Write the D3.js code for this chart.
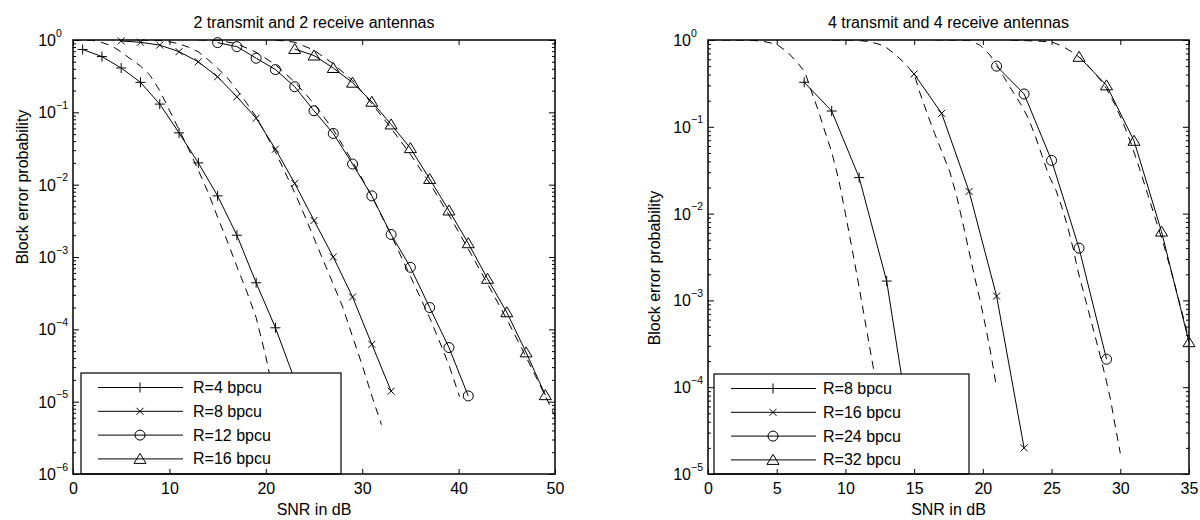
<!DOCTYPE html>
<html>
<head>
<meta charset="utf-8">
<script src="https://cdn.jsdelivr.net/npm/d3@7"></script>
<style>
  body { margin: 0; background: #fff; }
</style>
</head>
<body>
<svg id="chart" width="1200" height="520"></svg>
<script>
var FONT = "Arial, 'Liberation Sans', Helvetica, sans-serif";

// ---- left panel: 2 transmit / 2 receive antennas ----
var leftTicksX = [0, 10, 20, 30, 40, 50];
var leftDecades = [1, 1e-1, 1e-2, 1e-3, 1e-4, 1e-5, 1e-6];
var leftLabels = ["R=4 bpcu", "R=8 bpcu", "R=12 bpcu", "R=16 bpcu"];

var l4Snr = [1, 3, 5, 7, 9, 11, 13, 15, 17, 19, 21, 23];
var l4P = [0.74, 0.59, 0.41, 0.26, 0.13, 0.052, 0.020, 0.0070, 0.0020, 4.4e-4, 1.05e-4, 2.0e-5];
var l8Snr = [5, 7, 9, 11, 13, 15, 17, 19, 21, 23, 25, 27, 29, 31, 33];
var l8P = [0.97, 0.93, 0.85, 0.69, 0.50, 0.31, 0.164, 0.083, 0.031, 0.0104, 0.0032, 1.0e-3, 2.8e-4, 6.2e-5, 1.4e-5];
var l12Snr = [15, 17, 19, 21, 23, 25, 27, 29, 31, 33, 35, 37, 39, 41];
var l12P = [0.92, 0.81, 0.56, 0.39, 0.226, 0.105, 0.051, 0.0193, 0.0070, 0.00205, 7.2e-4, 2.0e-4, 5.6e-5, 1.2e-5];
var l16Snr = [23, 25, 27, 29, 31, 33, 35, 37, 39, 41, 43, 45, 47, 49];
var l16P = [0.75, 0.61, 0.41, 0.257, 0.14, 0.068, 0.032, 0.012, 0.0044, 0.00155, 5.0e-4, 1.72e-4, 4.8e-5, 1.23e-5];

// dashed (bound) curves, left panel
var l4DashSnr = [0, 2, 3, 4, 5, 6, 7, 8, 9, 10, 11, 12, 13, 14, 15, 16, 17, 18, 19, 20, 21];
var l4DashP = [1.0, 0.991, 0.923, 0.832, 0.684, 0.543, 0.437, 0.324, 0.200, 0.107, 0.0575, 0.0309, 0.0158, 0.0079, 0.00355, 0.00166, 7.4e-4, 3.4e-4, 1.45e-4, 4.2e-5, 1.0e-5];
var l8DashSnr = [7, 9, 10, 11, 12, 13, 14, 15, 16, 17, 18, 19, 20, 21, 22, 23, 24, 25, 26, 27, 28, 29, 30, 31, 32];
var l8DashP = [1.0, 0.982, 0.944, 0.887, 0.794, 0.684, 0.537, 0.407, 0.302, 0.204, 0.135, 0.087, 0.050, 0.0282, 0.0148, 0.00776, 0.0038, 0.00182, 8.7e-4, 4.2e-4, 2.0e-4, 7.9e-5, 3.2e-5, 1.2e-5, 4.8e-6];
var l12DashSnr = [13, 15, 17, 19, 21, 23, 25, 27, 29, 31, 33, 35, 37, 38, 39, 40.1];
var l12DashP = [1.0, 0.989, 0.891, 0.676, 0.457, 0.263, 0.132, 0.0575, 0.0209, 0.00692, 0.0020, 5.4e-4, 1.45e-4, 6.9e-5, 3.2e-5, 1.17e-5];
var l16DashSnr = [21, 23, 25, 27, 29, 31, 33, 35, 37, 39, 41, 43, 45, 47, 49, 50];
var l16DashP = [1.0, 0.933, 0.724, 0.468, 0.275, 0.132, 0.0603, 0.0263, 0.0105, 0.0038, 0.00129, 4.27e-4, 1.38e-4, 4.17e-5, 1.2e-5, 6.3e-6];

// ---- right panel: 4 transmit / 4 receive antennas ----
var rightTicksX = [0, 5, 10, 15, 20, 25, 30, 35];
var rightDecades = [1, 1e-1, 1e-2, 1e-3, 1e-4, 1e-5];
var rightLabels = ["R=8 bpcu", "R=16 bpcu", "R=24 bpcu", "R=32 bpcu"];

var r8Snr = [7, 9, 11, 13, 15];
var r8P = [0.326, 0.152, 0.026, 0.00167, 1.6e-5];
var r16Snr = [15, 17, 19, 21, 23];
var r16P = [0.406, 0.143, 0.018, 0.00112, 2.0e-5];
var r24Snr = [21, 23, 25, 27, 29];
var r24P = [0.50, 0.239, 0.041, 0.0040, 2.1e-4];
var r32Snr = [27, 29, 31, 33, 35];
var r32P = [0.64, 0.30, 0.069, 0.0062, 3.3e-4];

var r8DashSnr = [0, 3, 4, 5, 5.8, 6.5, 7.05, 7.5, 8, 8.5, 9, 9.5, 10, 10.5, 11, 11.5, 12, 12.5];
var r8DashP = [1.0, 0.995, 0.966, 0.891, 0.724, 0.55, 0.427, 0.263, 0.158, 0.0891, 0.0513, 0.0251, 0.01, 0.0038, 0.00141, 5.0e-4, 1.78e-4, 6.3e-5];
var r16DashSnr = [9, 10.8, 11.8, 12.8, 13.5, 14.2, 15, 15.4, 16, 16.5, 17, 17.6, 18.1, 18.6, 19, 19.4, 19.8, 20.2, 20.6, 21];
var r16DashP = [1.0, 0.995, 0.955, 0.861, 0.708, 0.562, 0.407, 0.251, 0.135, 0.0832, 0.0525, 0.0302, 0.0158, 0.00708, 0.00363, 0.00186, 0.001, 5.0e-4, 2.34e-4, 9.8e-5];
var r24DashSnr = [16.5, 19, 19.8, 20.5, 21, 21.5, 22, 22.8, 23.3, 23.8, 24.3, 24.8, 25.3, 25.8, 26.2, 26.6, 26.9, 27.4, 27.9, 28.4, 28.9, 29.3, 29.6, 30];
var r24DashP = [1.0, 0.995, 0.871, 0.676, 0.525, 0.38, 0.282, 0.178, 0.126, 0.0794, 0.0468, 0.0275, 0.019, 0.0112, 0.00676, 0.0038, 0.00224, 0.00112, 5.6e-4, 2.8e-4, 1.35e-4, 7.1e-5, 3.8e-5, 1.74e-5];
var r32DashSnr = [22, 25, 25.85, 26.6, 27.1, 27.8, 28.5, 29, 29.6, 30.2, 30.8, 31.4, 32, 32.6, 33.2, 33.8, 34.4, 35, 35.5];
var r32DashP = [1.0, 0.955, 0.838, 0.708, 0.617, 0.479, 0.355, 0.275, 0.182, 0.112, 0.0631, 0.0331, 0.0166, 0.0083, 0.00417, 0.0019, 8.3e-4, 3.5e-4, 1.6e-4];

var markers = ["plus", "cross", "circle", "tri"];

var svg = d3.select("#chart");

function addMarker(sel, type) {
  if (type === "circle") {
    sel.append("circle").attr("r", 5);
  } else if (type === "plus") {
    sel.append("path").attr("d", "M-5,0H5M0,-5V5");
  } else if (type === "cross") {
    sel.append("path").attr("d", "M-3.5,-3.5L3.5,3.5M-3.5,3.5L3.5,-3.5");
  } else {
    sel.append("path").attr("d", "M0,-5.5L6,4.5L-6,4.5Z");
  }
  sel.selectAll("*").attr("fill", "none").attr("stroke", "#000").attr("stroke-width", 1);
}

function drawPanel(p) {
  var x = d3.scaleLinear()
    .domain([p.xTicks[0], p.xTicks[p.xTicks.length - 1]])
    .range([p.x0, p.x1]);
  var y = d3.scaleLog()
    .domain([p.decades[p.decades.length - 1], 1])
    .range([p.y1, p.y0]);

  var g = svg.append("g");
  g.append("clipPath").attr("id", p.id)
    .append("rect")
    .attr("x", p.x0).attr("y", p.y0)
    .attr("width", p.x1 - p.x0).attr("height", p.y1 - p.y0);

  var line = d3.line()
    .x(function (d) { return x(d[0]); })
    .y(function (d) { return y(d[1]); });

  var plot = g.append("g").attr("clip-path", "url(#" + p.id + ")");
  p.series.forEach(function (s) {
    plot.append("path")
      .datum(d3.zip(s.dashSnr, s.dashP))
      .attr("d", line)
      .attr("fill", "none")
      .attr("stroke", "#000")
      .attr("stroke-width", 1)
      .attr("stroke-dasharray", "8,6");
    plot.append("path")
      .datum(d3.zip(s.snr, s.p))
      .attr("d", line)
      .attr("fill", "none")
      .attr("stroke", "#000")
      .attr("stroke-width", 1);
  });

  p.series.forEach(function (s) {
    g.append("g")
      .selectAll("g")
      .data(d3.zip(s.snr, s.p))
      .enter()
      .append("g")
      .attr("transform", function (d) { return "translate(" + x(d[0]) + "," + y(d[1]) + ")"; })
      .each(function () { addMarker(d3.select(this), s.marker); });
  });

  // legend
  var lg = g.append("g");
  lg.append("rect")
    .attr("x", p.legX).attr("y", p.legY)
    .attr("width", p.legW).attr("height", p.y1 - p.legY)
    .attr("fill", "#fff").attr("stroke", "#000").attr("stroke-width", 1.2);
  p.series.forEach(function (s, i) {
    var cy = p.legY + 14.5 + i * 23.8;
    lg.append("line")
      .attr("x1", p.legX + 17).attr("x2", p.legX + 102)
      .attr("y1", cy).attr("y2", cy)
      .attr("stroke", "#000").attr("stroke-width", 1);
    addMarker(lg.append("g").attr("transform", "translate(" + (p.legX + 59) + "," + cy + ")"), s.marker);
    lg.append("text")
      .attr("x", p.legX + p.legTextDx).attr("y", cy + 5.5)
      .attr("font-family", FONT).attr("font-size", 16)
      .text(s.label);
  });

  // axes
  var xb = g.append("g")
    .attr("transform", "translate(0," + p.y1 + ")")
    .call(d3.axisBottom(x).tickValues(p.xTicks).tickSizeInner(-5).tickSizeOuter(0).tickPadding(9).tickFormat(d3.format("d")));
  xb.attr("font-size", 16).attr("font-family", FONT);
  g.append("g")
    .attr("transform", "translate(0," + p.y0 + ")")
    .call(d3.axisTop(x).tickValues(p.xTicks).tickSizeInner(-5).tickSizeOuter(0).tickFormat(""));

  var minors = [];
  p.decades.slice(0, -1).forEach(function (d) {
    for (var k = 2; k <= 9; k++) minors.push(d / 10 * k);
  });
  g.append("g").attr("transform", "translate(" + p.x0 + ",0)")
    .call(d3.axisLeft(y).tickValues(p.decades).tickSizeInner(-6).tickSizeOuter(0).tickFormat(""));
  g.append("g").attr("transform", "translate(" + p.x0 + ",0)")
    .call(d3.axisLeft(y).tickValues(minors).tickSizeInner(-3).tickSizeOuter(0).tickFormat(""));
  g.append("g").attr("transform", "translate(" + p.x1 + ",0)")
    .call(d3.axisRight(y).tickValues(p.decades).tickSizeInner(-6).tickSizeOuter(0).tickFormat(""));
  g.append("g").attr("transform", "translate(" + p.x1 + ",0)")
    .call(d3.axisRight(y).tickValues(minors).tickSizeInner(-3).tickSizeOuter(0).tickFormat(""));
  g.selectAll(".domain").remove();
  g.selectAll(".tick line").attr("stroke", "#000");

  // y tick labels: base "10" right-aligned, exponent hanging after it
  p.decades.forEach(function (d) {
    var e = Math.round(Math.log10(d));
    g.append("text")
      .attr("x", p.x0 - 17).attr("y", y(d) + 6)
      .attr("text-anchor", "end")
      .attr("font-family", FONT).attr("font-size", 16)
      .text("10");
    g.append("text")
      .attr("x", p.x0 - 17).attr("y", y(d) - 3.5)
      .attr("font-family", FONT).attr("font-size", 10.5)
      .text(e === 0 ? "0" : "\u2212" + (-e));
  });

  g.append("rect")
    .attr("x", p.x0).attr("y", p.y0)
    .attr("width", p.x1 - p.x0).attr("height", p.y1 - p.y0)
    .attr("fill", "none").attr("stroke", "#000").attr("stroke-width", 1.5);

  g.append("text")
    .attr("x", (p.x0 + p.x1) / 2).attr("y", 28)
    .attr("text-anchor", "middle")
    .attr("font-family", FONT).attr("font-size", 16)
    .text(p.title);
  g.append("text")
    .attr("x", (p.x0 + p.x1) / 2).attr("y", 515)
    .attr("text-anchor", "middle")
    .attr("font-family", FONT).attr("font-size", 16)
    .text("SNR in dB");
  g.append("text")
    .attr("transform", "translate(" + p.yLabelX + "," + p.yLabelY + ")rotate(-90)")
    .attr("text-anchor", "middle")
    .attr("font-family", FONT).attr("font-size", 16)
    .text("Block error probability");
}

drawPanel({
  id: "clipL", title: "2 transmit and 2 receive antennas",
  x0: 73, x1: 555, y0: 40, y1: 474,
  xTicks: leftTicksX, decades: leftDecades,
  legX: 81, legY: 373, legW: 260, legTextDx: 112, yLabelX: 28, yLabelY: 187,
  series: [
    { label: leftLabels[0], marker: markers[0], snr: l4Snr, p: l4P, dashSnr: l4DashSnr, dashP: l4DashP },
    { label: leftLabels[1], marker: markers[1], snr: l8Snr, p: l8P, dashSnr: l8DashSnr, dashP: l8DashP },
    { label: leftLabels[2], marker: markers[2], snr: l12Snr, p: l12P, dashSnr: l12DashSnr, dashP: l12DashP },
    { label: leftLabels[3], marker: markers[3], snr: l16Snr, p: l16P, dashSnr: l16DashSnr, dashP: l16DashP }
  ]
});

drawPanel({
  id: "clipR", title: "4 transmit and 4 receive antennas",
  x0: 708, x1: 1189, y0: 40, y1: 474,
  xTicks: rightTicksX, decades: rightDecades,
  legX: 714, legY: 374, legW: 255, legTextDx: 109, yLabelX: 660, yLabelY: 268,
  series: [
    { label: rightLabels[0], marker: markers[0], snr: r8Snr, p: r8P, dashSnr: r8DashSnr, dashP: r8DashP },
    { label: rightLabels[1], marker: markers[1], snr: r16Snr, p: r16P, dashSnr: r16DashSnr, dashP: r16DashP },
    { label: rightLabels[2], marker: markers[2], snr: r24Snr, p: r24P, dashSnr: r24DashSnr, dashP: r24DashP },
    { label: rightLabels[3], marker: markers[3], snr: r32Snr, p: r32P, dashSnr: r32DashSnr, dashP: r32DashP }
  ]
});
</script>
</body>
</html>
